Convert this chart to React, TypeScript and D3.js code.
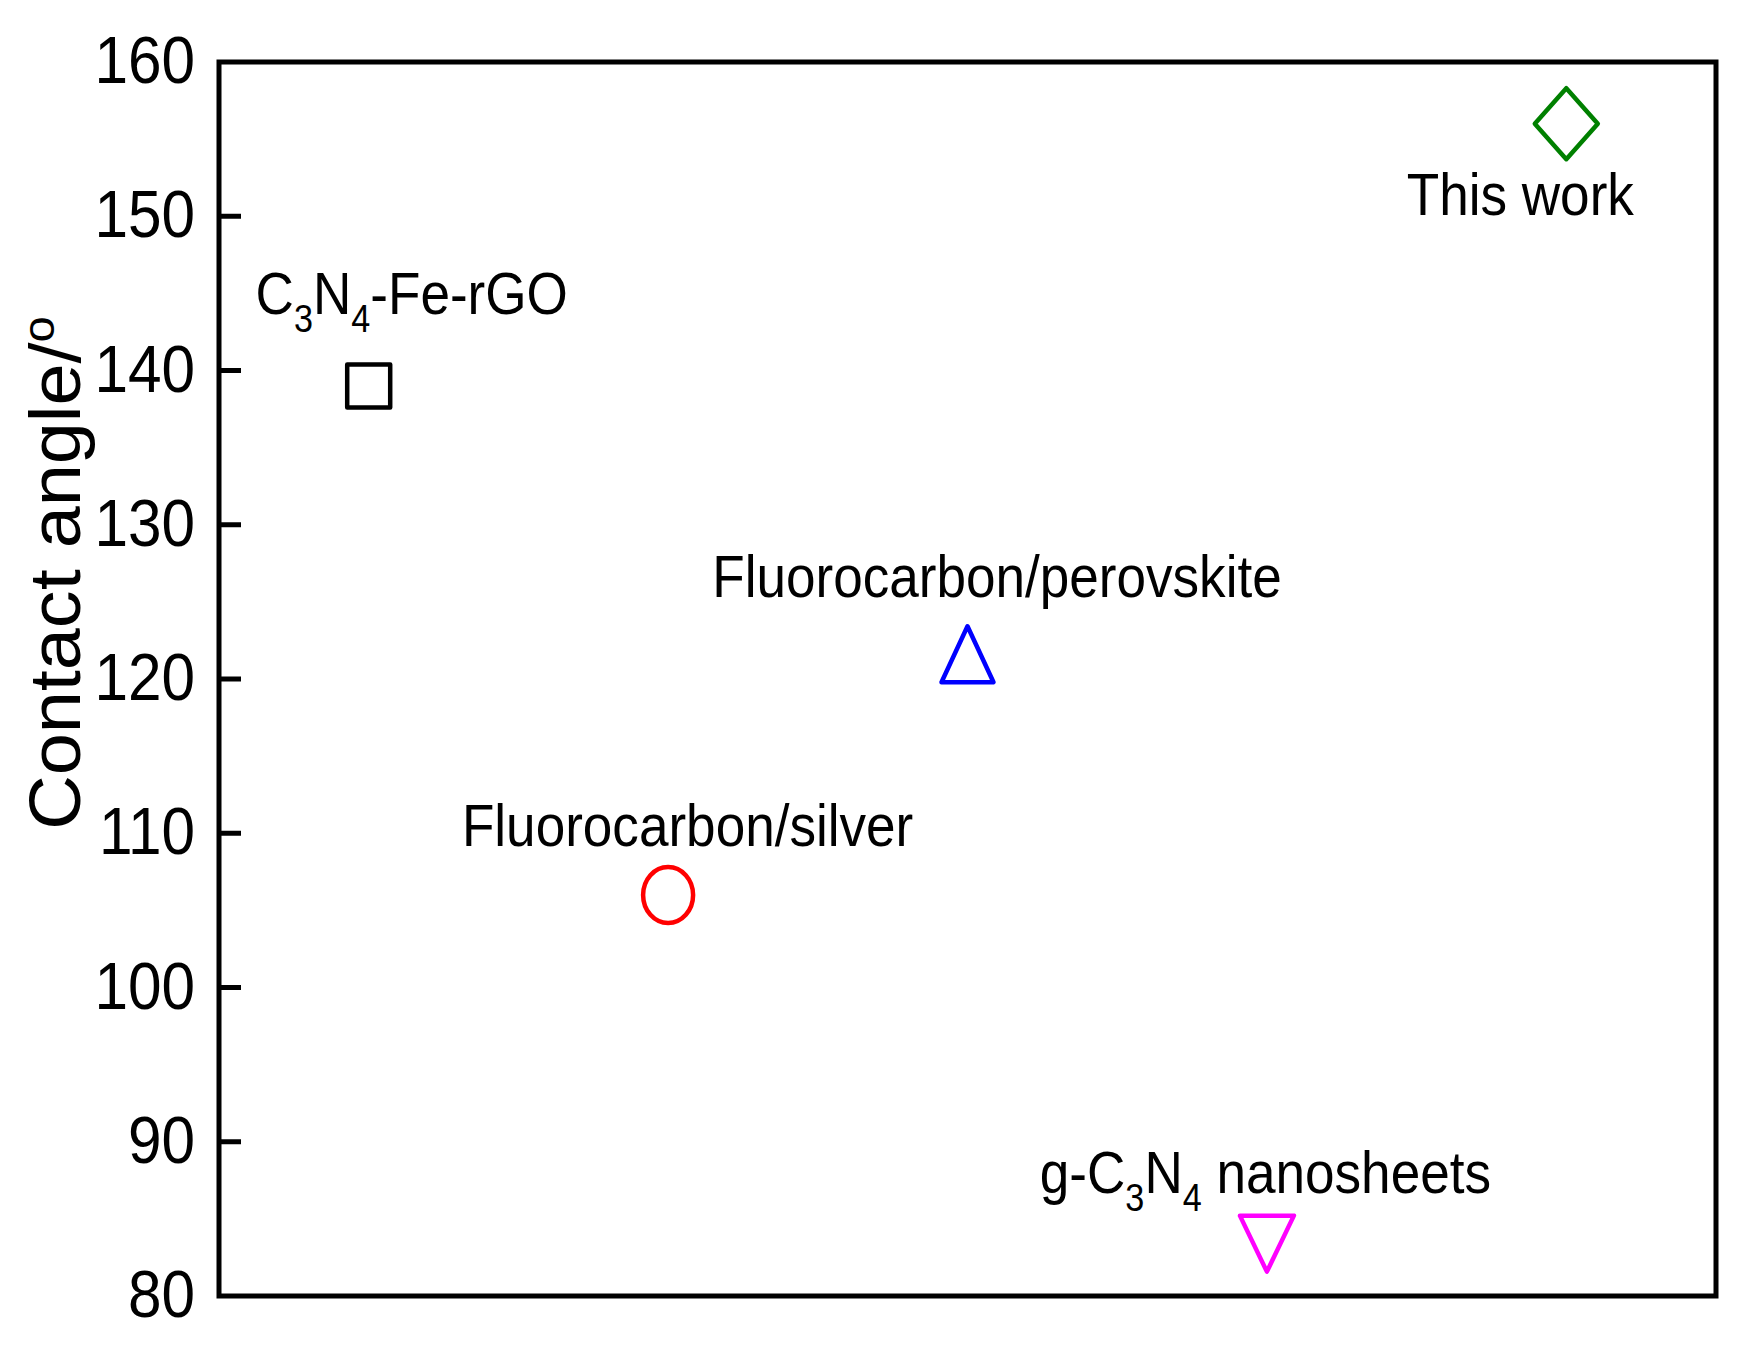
import React from "react";
import * as d3 from "d3";

const categories = ["C_3N_4-Fe-rGO", "Fluorocarbon/silver", "Fluorocarbon/perovskite", "g-C_3N_4 nanosheets", "This work"];
const contactAngles = [139, 106, 121, 84, 156];
const markerShapes = ["square", "circle", "triangleUp", "triangleDown", "diamond"];
const markerColors = ["#000000", "#FF0000", "#0000FF", "#FF00FF", "#008000"];
const yTicks = [80, 90, 100, 110, 120, 130, 140, 150, 160];
const yLabel = "Contact angle/";

// label placement relative to point (dx of centre, dy of baseline)
const labelOffsets: [number, number][] = [[43, -71.5], [19.5, -49], [29.5, -66.6], [-1.5, -41], [-46, 91]];

const W = 1751, H = 1353;
const M = { left: 219, right: 1716, top: 62, bottom: 1296 };
const FONT = "'Liberation Sans', Arial, sans-serif";
const SX = 0.9;

function parseLabel(s: string) {
  const parts: { t: string; sub: boolean }[] = [];
  let i = 0, buf = "";
  while (i < s.length) {
    if (s[i] === "_" && i + 1 < s.length) {
      if (buf) parts.push({ t: buf, sub: false });
      buf = "";
      parts.push({ t: s[i + 1], sub: true });
      i += 2;
    } else { buf += s[i]; i++; }
  }
  if (buf) parts.push({ t: buf, sub: false });
  return parts;
}

function markerPath(shape: string): string {
  switch (shape) {
    case "square": { const h = 21.5; return `M${-h},${-h}H${h}V${h}H${-h}Z`; }
    case "triangleUp": { const w = 26, h = 56; return `M0,${-2 * h / 3}L${w},${h / 3}L${-w},${h / 3}Z`; }
    case "triangleDown": { const w = 27, h = 56; return `M0,${2 * h / 3}L${w},${-h / 3}L${-w},${-h / 3}Z`; }
    case "diamond": { const a = 31.5, b = 35.5; return `M0,${-b}L${a},0L0,${b}L${-a},0Z`; }
    default: return "";
  }
}

export default function App() {
  const x = d3.scalePoint<string>().domain(categories).range([M.left, M.right]).padding(0.5);
  const y = d3.scaleLinear().domain([80, 160]).range([M.bottom, M.top]);

  return (
    <svg width={W} height={H} style={{ position: "absolute", left: 0, top: 0, background: "#fff" }} fontFamily={FONT}>
      <rect x={0} y={0} width={W} height={H} fill="#fff" />
      {/* y ticks */}
      {yTicks.map((t) => (
        <g key={t}>
          {t !== 80 && t !== 160 && (
            <line x1={M.left} x2={M.left + 22} y1={y(t)} y2={y(t)} stroke="#000" strokeWidth={5} />
          )}
          <g transform={`translate(195,${y(t) + 21}) scale(${SX},1)`}>
            <text textAnchor="end" fontSize={67} fill="#000">{t}</text>
          </g>
        </g>
      ))}
      {/* frame */}
      <rect x={M.left} y={M.top} width={M.right - M.left} height={M.bottom - M.top} fill="none" stroke="#000" strokeWidth={5} />
      {/* y label */}
      <g transform={`translate(80,573) rotate(-90) scale(1.05,1)`}>
        <text textAnchor="middle" fontSize={72} fill="#000">
          {yLabel}
          <tspan fontSize={45} dy={-26}>o</tspan>
        </text>
      </g>
      {/* markers */}
      {categories.map((c, i) => {
        const cx = x(c)!;
        const cy = y(contactAngles[i]);
        const shape = markerShapes[i];
        const col = markerColors[i];
        return (
          <g key={c}>
            {shape === "circle" ? (
              <ellipse cx={cx} cy={cy} rx={25} ry={28} fill="none" stroke={col} strokeWidth={4.5} />
            ) : (
              <path d={markerPath(shape)} transform={`translate(${cx},${cy})`} fill="none" stroke={col} strokeWidth={4.5} strokeLinejoin="round" />
            )}
          </g>
        );
      })}
      {/* labels */}
      {categories.map((c, i) => {
        const cx = x(c)! + labelOffsets[i][0];
        const by = y(contactAngles[i]) + labelOffsets[i][1];
        const parts = parseLabel(c);
        return (
          <g key={"l" + c} transform={`translate(${cx},${by}) scale(${SX},1)`}>
            <text textAnchor="middle" fontSize={59} fill="#000">
              {parts.map((p, j) => {
                const prevSub = j > 0 && parts[j - 1].sub;
                const dy = p.sub ? 18 : prevSub ? -18 : 0;
                return (
                  <tspan key={j} fontSize={p.sub ? 38 : 59} dy={dy}>{p.t}</tspan>
                );
              })}
            </text>
          </g>
        );
      })}
    </svg>
  );
}
